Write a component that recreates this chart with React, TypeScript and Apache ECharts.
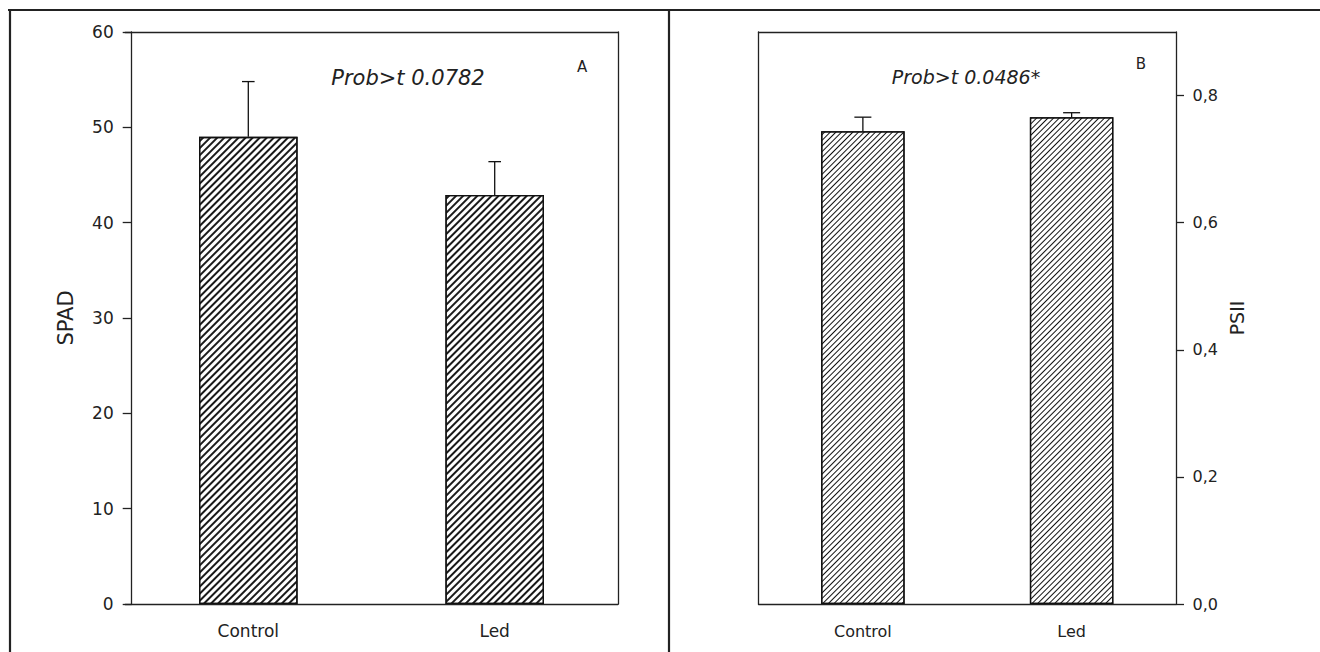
import React, { useEffect, useRef } from "react";
import * as echarts from "echarts";

const categories = ["Control", "Led"];
const spadMeans = [49.0, 42.9];
const spadUpper = [54.8, 46.4];
const psiiMeans = [0.744, 0.766];
const psiiUpper = [0.766, 0.773];
const psiiTicks = [0, 0.2, 0.4, 0.6, 0.8];
const probTextA = "Prob>t 0.0782";
const probTextB = "Prob>t 0.0486*";

const FONT = "DejaVu Sans";
const INK = "#222";

const hatchA = {
  symbol: "rect",
  symbolSize: 1,
  color: "#1a1a1a",
  backgroundColor: "#fff",
  dashArrayX: [1, 0],
  dashArrayY: [1.2, 2.6],
  rotation: -Math.PI / 4,
};
const hatchB = {
  symbol: "rect",
  symbolSize: 1,
  color: "#111",
  backgroundColor: "#fff",
  dashArrayX: [1, 0],
  dashArrayY: [1, 3],
  rotation: -Math.PI / 4,
};

function errorRenderer(capHalf: number) {
  return (params: any, api: any) => {
    const x = api.value(0);
    const base = api.coord([x, api.value(1)]);
    const top = api.coord([x, api.value(2)]);
    const st = { stroke: "#111", lineWidth: 1.3 };
    return {
      type: "group",
      children: [
        { type: "line", shape: { x1: top[0], y1: base[1], x2: top[0], y2: top[1] }, style: st },
        { type: "line", shape: { x1: top[0] - capHalf, y1: top[1], x2: top[0] + capHalf, y2: top[1] }, style: st },
      ],
    };
  };
}

export default function App() {
  const ref = useRef<HTMLDivElement>(null);
  useEffect(() => {
    document.body.style.margin = "0";
    const chart = echarts.init(ref.current!, null, { renderer: "svg" });
    const line = { color: INK, width: 1.3 };
    const frameX = (gridIndex: number) => ({
      gridIndex,
      type: "category",
      data: categories,
      position: "top",
      axisLine: { show: true, onZero: false, lineStyle: line },
      axisTick: { show: false },
      axisLabel: { show: false },
    });
    const frameY = (gridIndex: number, position: string, max: number) => ({
      gridIndex,
      type: "value",
      min: 0,
      max,
      position,
      axisLine: { show: true, onZero: false, lineStyle: line },
      axisTick: { show: false },
      axisLabel: { show: false },
      splitLine: { show: false },
    });
    chart.setOption({
      animation: false,
      textStyle: { fontFamily: FONT },
      grid: [
        { left: 125.1, top: 32, width: 492.8, height: 572 },
        { left: 758.5, top: 32, width: 417.5, height: 572 },
      ],
      xAxis: [
        {
          gridIndex: 0,
          type: "category",
          data: categories,
          position: "bottom",
          axisLine: { onZero: false, lineStyle: line },
          axisTick: { alignWithLabel: true, length: 8, lineStyle: line },
          axisLabel: { fontSize: 17, margin: 18, color: INK, fontFamily: FONT },
        },
        frameX(0),
        {
          gridIndex: 1,
          type: "category",
          data: categories,
          position: "bottom",
          axisLine: { onZero: false, lineStyle: line },
          axisTick: { alignWithLabel: true, length: 8, lineStyle: line },
          axisLabel: { fontSize: 16, margin: 19, color: INK, fontFamily: FONT },
        },
        frameX(1),
      ],
      yAxis: [
        {
          gridIndex: 0,
          type: "value",
          min: 0,
          max: 60,
          interval: 10,
          position: "left",
          offset: -6.6,
          axisLine: { show: true, onZero: false, lineStyle: line },
          axisTick: { show: true, length: 9, lineStyle: line },
          axisLabel: { fontSize: 17, margin: 18, color: INK, fontFamily: FONT },
          splitLine: { show: false },
          name: "SPAD",
          nameLocation: "middle",
          nameGap: 55,
          nameTextStyle: { fontSize: 21, color: INK, fontFamily: FONT },
        },
        frameY(0, "right", 60),
        {
          gridIndex: 1,
          type: "value",
          min: 0,
          max: 0.9,
          position: "right",
          axisLine: { show: true, onZero: false, lineStyle: line },
          axisTick: { show: true, length: 8, lineStyle: line, customValues: psiiTicks },
          axisLabel: {
            fontSize: 16,
            margin: 16.5,
            color: INK,
            fontFamily: FONT,
            customValues: psiiTicks,
            formatter: (v: number) => v.toFixed(1).replace(".", ","),
          },
          splitLine: { show: false },
          name: "PSII",
          nameLocation: "middle",
          nameRotate: 90,
          nameGap: 51,
          nameTextStyle: { fontSize: 19, color: INK, fontFamily: FONT },
        },
        frameY(1, "left", 0.9),
      ],
      series: [
        {
          type: "bar",
          xAxisIndex: 0,
          yAxisIndex: 0,
          data: spadMeans,
          barWidth: "40%",
          itemStyle: { color: "#fff", borderColor: "#111", borderWidth: 1.3, decal: hatchA },
        },
        {
          type: "custom",
          xAxisIndex: 0,
          yAxisIndex: 0,
          data: categories.map((_, i) => [i, spadMeans[i], spadUpper[i]]),
          encode: { x: 0, y: [1, 2] },
          renderItem: errorRenderer(6.3),
          z: 3,
        },
        {
          type: "bar",
          xAxisIndex: 2,
          yAxisIndex: 2,
          data: psiiMeans,
          barWidth: "40%",
          itemStyle: { color: "#fff", borderColor: "#111", borderWidth: 1.3, decal: hatchB },
        },
        {
          type: "custom",
          xAxisIndex: 2,
          yAxisIndex: 2,
          data: categories.map((_, i) => [i, psiiMeans[i], psiiUpper[i]]),
          encode: { x: 0, y: [1, 2] },
          renderItem: errorRenderer(8.5),
          z: 3,
        },
      ],
      graphic: [
        { type: "line", shape: { x1: 8, y1: 10, x2: 1320, y2: 10 }, style: { stroke: INK, lineWidth: 2.2 } },
        { type: "line", shape: { x1: 10, y1: 9, x2: 10, y2: 652 }, style: { stroke: INK, lineWidth: 2.2 } },
        { type: "line", shape: { x1: 669, y1: 9, x2: 669, y2: 652 }, style: { stroke: INK, lineWidth: 2.2 } },
        {
          type: "text",
          x: 408,
          y: 77.5,
          style: { text: probTextA, font: `italic 21px '${FONT}'`, fill: INK, textAlign: "center", textVerticalAlign: "middle" },
        },
        {
          type: "text",
          x: 582,
          y: 67,
          style: { text: "A", font: `15px '${FONT}'`, fill: INK, textAlign: "center", textVerticalAlign: "middle" },
        },
        {
          type: "text",
          x: 966,
          y: 77,
          style: { text: probTextB, font: `italic 19px '${FONT}'`, fill: INK, textAlign: "center", textVerticalAlign: "middle" },
        },
        {
          type: "text",
          x: 1141,
          y: 64,
          style: { text: "B", font: `15px '${FONT}'`, fill: INK, textAlign: "center", textVerticalAlign: "middle" },
        },
      ],
    });
    return () => chart.dispose();
  }, []);
  return <div ref={ref} style={{ width: 1320, height: 652 }} />;
}
